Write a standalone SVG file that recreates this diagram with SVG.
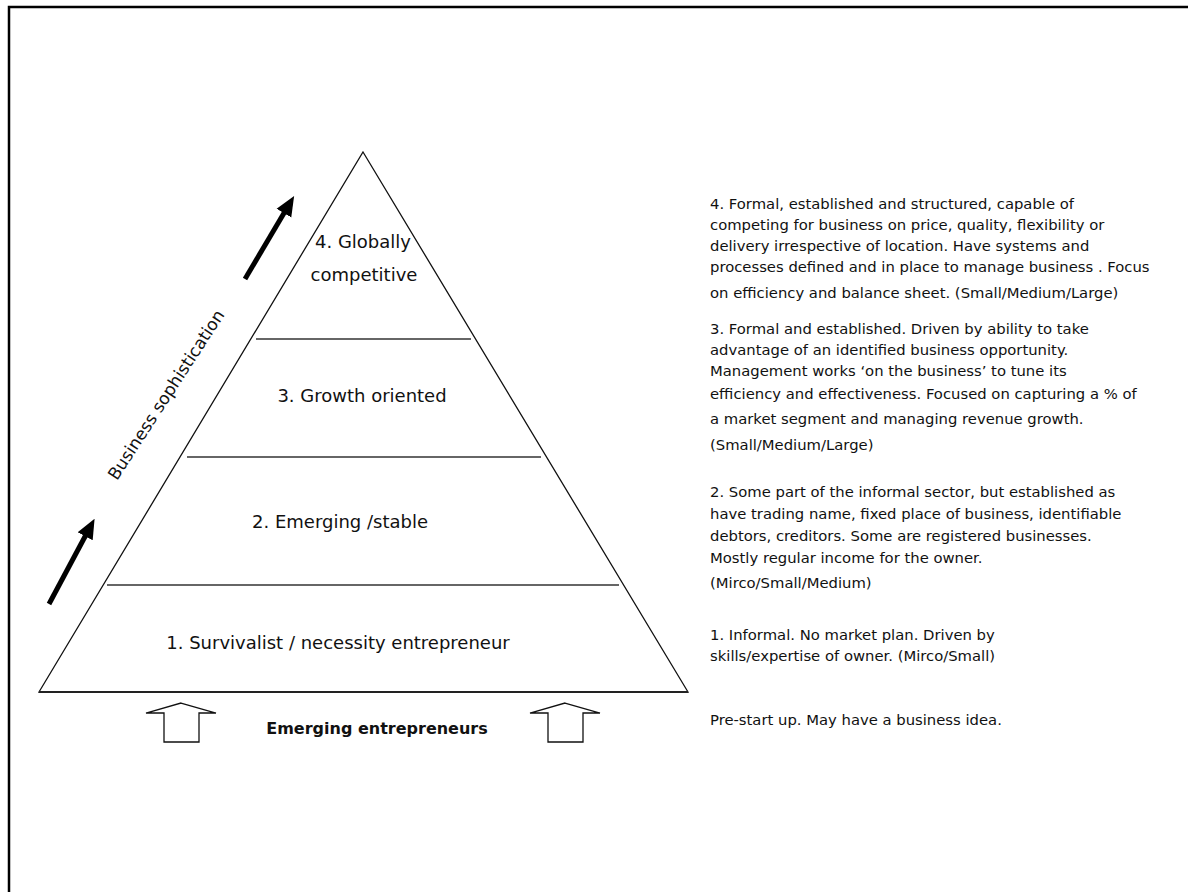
<svg xmlns="http://www.w3.org/2000/svg" width="1188" height="892" viewBox="0 0 1188 892">
<style>
.t{font-family:"DejaVu Sans",Verdana,sans-serif;font-size:14.8px;fill:#111}
.p{font-family:"DejaVu Sans",Verdana,sans-serif;font-size:18px;fill:#111;text-anchor:middle}
.s{font-family:"DejaVu Sans",Verdana,sans-serif;font-size:17px;fill:#111;text-anchor:middle}
.b{font-family:"DejaVu Sans",Verdana,sans-serif;font-size:16px;font-weight:bold;fill:#111;text-anchor:middle}
.div{stroke:#333;stroke-width:1.3}
.hollow{fill:#fff;stroke:#111;stroke-width:1.3}
.arr{stroke:#000;stroke-width:5;marker-end:url(#ah)}
</style>
<defs>
<marker id="ah" markerWidth="4" markerHeight="4" refX="1.2" refY="2" orient="auto" markerUnits="strokeWidth">
<path d="M0,0.3 L4,2 L0,3.7 Z" fill="#000"/>
</marker>
</defs>
<rect width="1188" height="892" fill="#fff"/>
<g id="frame">
<path d="M9,892 V7 H1188" fill="none" stroke="#000" stroke-width="2.5"/>
</g>
<g id="pyramid">
<polygon points="363,152 688,692 39,692" fill="#fff" stroke="#111" stroke-width="1.3"/>
<line x1="39" y1="692" x2="688" y2="692" stroke="#222" stroke-width="2"/>
</g>
<g id="dividers">
<line class="div" x1="256" y1="339" x2="471" y2="339"/>
<line class="div" x1="187" y1="457" x2="541" y2="457"/>
<line class="div" x1="107" y1="585" x2="619" y2="585"/>
</g>
<g id="level4"><text class="p" x="363" y="248" font-size="15.5">4. Globally</text><text class="p" x="364" y="281" font-size="16.5">competitive</text></g>
<g id="level3"><text class="p" x="362" y="402">3. Growth oriented</text></g>
<g id="level2"><text class="p" x="340" y="528">2. Emerging /stable</text></g>
<g id="level1"><text class="p" x="338" y="649">1. Survivalist / necessity entrepreneur</text></g>
<g id="emerging">
<path class="hollow" d="M181,703 L216,713 L199,713 L199,742 L164,742 L164,713 L146,713 Z"/>
<path class="hollow" d="M565,703 L600,713 L583,713 L583,742 L548,742 L548,713 L530,713 Z"/>
<text class="b" x="377" y="734">Emerging entrepreneurs</text>
</g>
<g id="connectors">
<line class="arr" x1="245" y1="279" x2="287" y2="208"/>
<line class="arr" x1="49" y1="604" x2="88" y2="531"/>
</g>
<g id="axis-label">
<text class="s" transform="translate(171,398) rotate(-57)" x="0" y="0">Business sophistication</text>
</g>
<g id="desc4">
<text class="t" x="710" y="209">4. Formal, established and structured, capable of</text>
<text class="t" x="710" y="230">competing for business on price, quality, flexibility or</text>
<text class="t" x="710" y="251">delivery irrespective of location. Have systems and</text>
<text class="t" x="710" y="272">processes defined and in place to manage business . Focus</text>
<text class="t" x="710" y="298">on efficiency and balance sheet. (Small/Medium/Large)</text>
</g>
<g id="desc3">
<text class="t" x="710" y="334">3. Formal and established. Driven by ability to take</text>
<text class="t" x="710" y="355">advantage of an identified business opportunity.</text>
<text class="t" x="710" y="376">Management works ‘on the business’ to tune its</text>
<text class="t" x="710" y="399">efficiency and effectiveness. Focused on capturing a % of</text>
<text class="t" x="710" y="424">a market segment and managing revenue growth.</text>
<text class="t" x="710" y="450">(Small/Medium/Large)</text>
</g>
<g id="desc2">
<text class="t" x="710" y="497">2. Some part of the informal sector, but established as</text>
<text class="t" x="710" y="519">have trading name, fixed place of business, identifiable</text>
<text class="t" x="710" y="541">debtors, creditors. Some are registered businesses.</text>
<text class="t" x="710" y="563">Mostly regular income for the owner.</text>
<text class="t" x="710" y="588">(Mirco/Small/Medium)</text>
</g>
<g id="desc1">
<text class="t" x="710" y="640">1. Informal. No market plan. Driven by</text>
<text class="t" x="710" y="661">skills/expertise of owner. (Mirco/Small)</text>
</g>
<g id="desc0">
<text class="t" x="710" y="725">Pre-start up. May have a business idea.</text>
</g>
</svg>
